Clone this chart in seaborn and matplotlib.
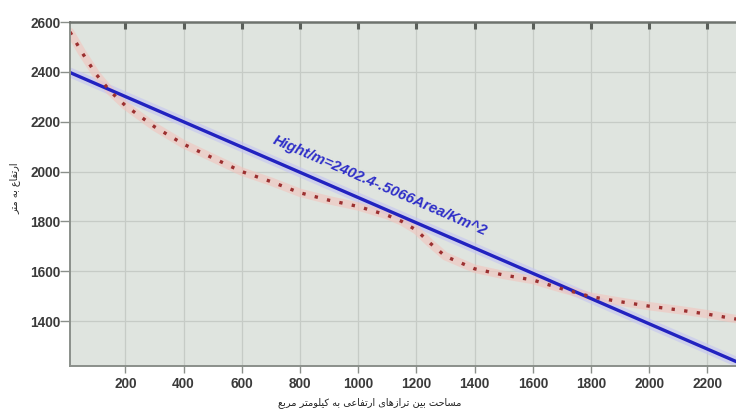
import numpy as np
import pandas as pd
import matplotlib
matplotlib.use("Agg")
import matplotlib.pyplot as plt
import seaborn as sns

# ---- data ----
area_km2 = [10, 50, 100, 150, 200, 300, 400, 500, 600, 700, 800, 900, 1000,
            1100, 1150, 1200, 1250, 1300, 1400, 1500, 1600, 1700, 1800, 1900,
            2000, 2100, 2200, 2300]
height_m = [2560, 2480, 2390, 2320, 2265, 2180, 2110, 2055, 2000, 1960, 1915,
            1885, 1860, 1825, 1800, 1765, 1710, 1660, 1610, 1585, 1565, 1530,
            1498, 1478, 1460, 1445, 1428, 1408]
fit_x = [0, 2300]
fit_y = [2402.4, 1237.2]
fit_label = "Hight/m=2402.4-.5066Area/Km^2"
x_ticks = [200, 400, 600, 800, 1000, 1200, 1400, 1600, 1800, 2000, 2200]
y_ticks = [1400, 1600, 1800, 2000, 2200, 2400, 2600]
x_title = "مساحت بین ترازهای ارتفاعی به کیلومتر مربع"
y_title = "ارتفاع به متر"

# ---- simple Persian shaping for display ----
FORMS = {
    'ا': ('\uFE8D', '\uFE8E', None, None),
    'ب': ('\uFE8F', '\uFE90', '\uFE91', '\uFE92'),
    'ت': ('\uFE95', '\uFE96', '\uFE97', '\uFE98'),
    'ح': ('\uFEA1', '\uFEA2', '\uFEA3', '\uFEA4'),
    'ر': ('\uFEAD', '\uFEAE', None, None),
    'ز': ('\uFEAF', '\uFEB0', None, None),
    'س': ('\uFEB1', '\uFEB2', '\uFEB3', '\uFEB4'),
    'ع': ('\uFEC9', '\uFECA', '\uFECB', '\uFECC'),
    'ف': ('\uFED1', '\uFED2', '\uFED3', '\uFED4'),
    'ل': ('\uFEDD', '\uFEDE', '\uFEDF', '\uFEE0'),
    'م': ('\uFEE1', '\uFEE2', '\uFEE3', '\uFEE4'),
    'ن': ('\uFEE5', '\uFEE6', '\uFEE7', '\uFEE8'),
    'ه': ('\uFEE9', '\uFEEA', '\uFEEB', '\uFEEC'),
    'و': ('\uFEED', '\uFEEE', None, None),
    'ی': ('\uFBFC', '\uFBFD', '\uFBFE', '\uFBFF'),
    'ک': ('\uFB8E', '\uFB8F', '\uFB90', '\uFB91'),
}


def shape(text):
    out = []
    n = len(text)
    for i, ch in enumerate(text):
        if ch not in FORMS:
            out.append(ch)
            continue
        prev = text[i - 1] if i > 0 else ''
        nxt = text[i + 1] if i + 1 < n else ''
        join_prev = prev in FORMS and FORMS[prev][2] is not None
        join_next = FORMS[ch][2] is not None and nxt in FORMS
        iso, fin, ini, med = FORMS[ch]
        if join_prev and join_next:
            out.append(med)
        elif join_prev:
            out.append(fin)
        elif join_next:
            out.append(ini)
        else:
            out.append(iso)
    return ''.join(out)[::-1]


# ---- style ----
sns.set_theme(style="whitegrid")
plt.rcParams.update({
    "axes.facecolor": "#dfe4df",
    "grid.color": "#c6cbc6",
    "grid.linewidth": 0.9,
    "axes.edgecolor": "#8a8f8a",
})
plt.rcParams['font.family'] = ['DejaVu Sans']

fig = plt.figure(figsize=(7.36, 4.11), dpi=100)
ax = fig.add_axes([70 / 736, 45 / 411, 668 / 736, 344 / 411])

curve = pd.DataFrame({"area": area_km2, "height": height_m})
fit = pd.DataFrame({"area": fit_x, "height": fit_y})

# soft halos
sns.lineplot(data=fit, x="area", y="height", ax=ax, color="#c4c4f2",
             linewidth=7, alpha=0.6)
sns.lineplot(data=curve, x="area", y="height", ax=ax, color="#f2c4bc",
             linewidth=6, alpha=0.6)
# main lines
sns.lineplot(data=fit, x="area", y="height", ax=ax, color="#2222c0",
             linewidth=2.4)
sns.lineplot(data=curve, x="area", y="height", ax=ax, color="#9c3030",
             linewidth=2.4, linestyle=(0, (1.0, 2.8)))

ax.set_xlim(10, 2305)
ax.set_ylim(1220, 2600)
ax.set_xticks(x_ticks)
ax.set_yticks(y_ticks)
ax.set_xlabel("")
ax.set_ylabel("")

for lab in ax.get_xticklabels() + ax.get_yticklabels():
    lab.set_fontweight("bold")
    lab.set_fontsize(9.8)
    lab.set_color("#3a3a3a")
    lab.set_fontfamily(["Liberation Sans", "DejaVu Sans"])

ax.tick_params(axis="y", which="major", direction="out", length=7, width=1,
               color="#8a8f8a", pad=0, left=True, right=True)
ax.tick_params(axis="x", which="major", direction="out", length=5, width=1,
               color="#8a8f8a", pad=3, bottom=True)

# top ticks (inside, thick)
for xv in x_ticks:
    ax.plot([xv, xv], [2600, 2570], color="#5a5f5a", linewidth=2.2,
            solid_capstyle="butt", clip_on=False)

ax.spines["top"].set_color("#6e736e")
ax.spines["top"].set_linewidth(1.8)
ax.spines["left"].set_linewidth(1.4)
ax.spines["bottom"].set_linewidth(1.4)
ax.spines["right"].set_visible(False)

# equation label along the fit line
angle = np.degrees(np.arctan((fit_y[1] - fit_y[0]) / (fit_x[1] - fit_x[0])))
ax.text(1075, 1945, fit_label, color="#2e2ec8", fontsize=10.8,
        fontweight="bold", fontstyle="italic", rotation=angle,
        transform_rotates_text=True, rotation_mode="anchor",
        ha="center", va="center",
        fontfamily=["Liberation Sans", "DejaVu Sans"])

fig.text(370 / 736, 1 - 403 / 411, shape(x_title), ha="center", va="center",
         fontsize=7, color="#222222", family=["DejaVu Sans"])
fig.text(15 / 736, 1 - 188 / 411, shape(y_title), ha="center", va="center",
         rotation=90, fontsize=7, color="#222222", family=["DejaVu Sans"])

fig.savefig("out.png", dpi=100)
